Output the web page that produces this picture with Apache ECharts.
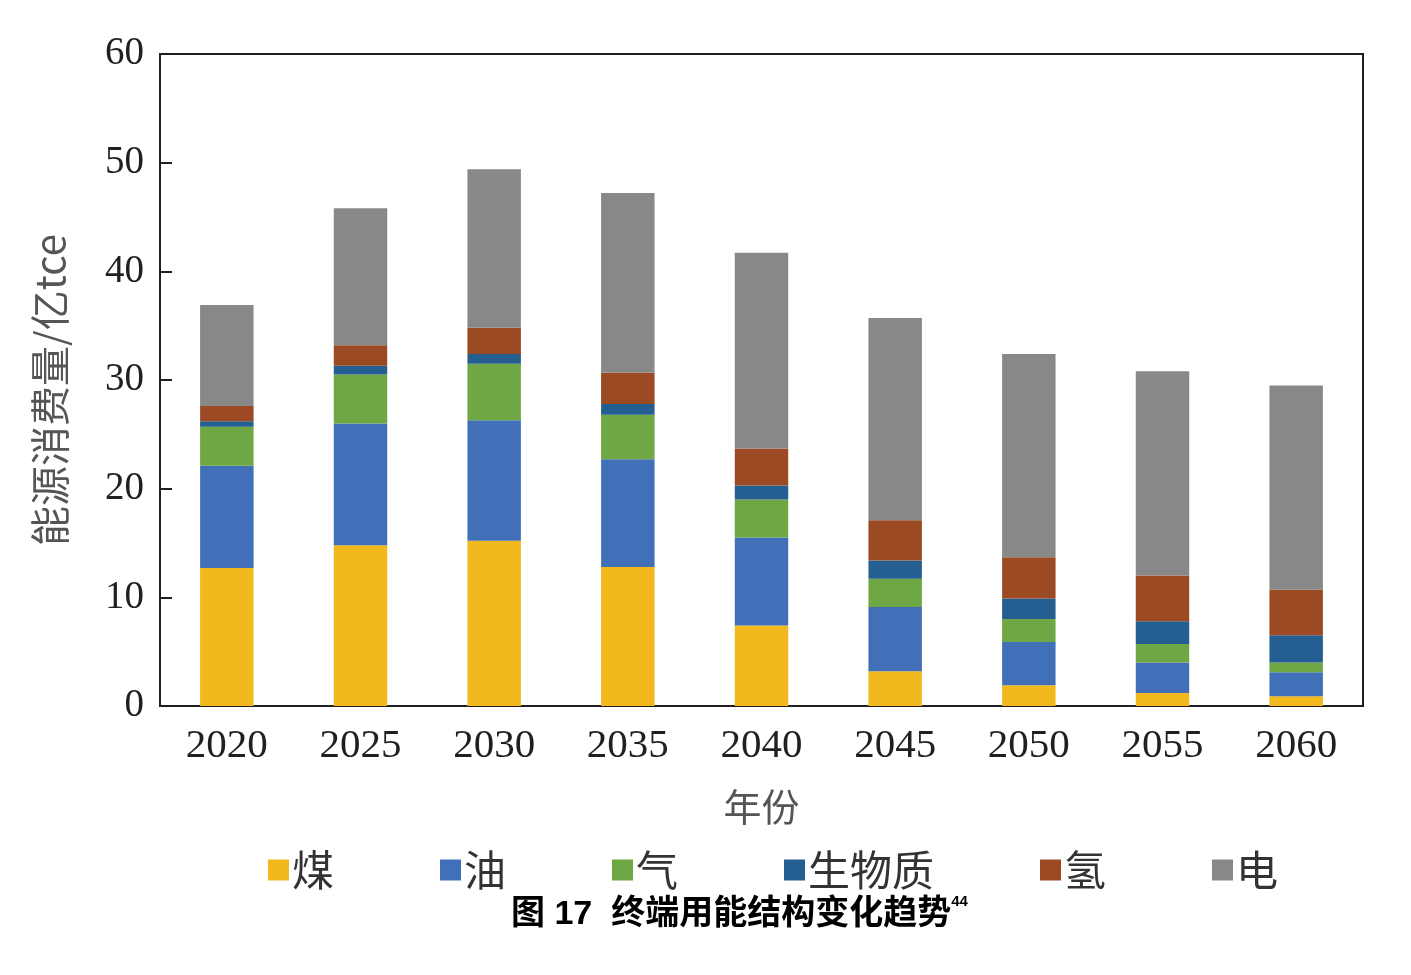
<!DOCTYPE html>
<html>
<head>
<meta charset="utf-8">
<title>终端用能结构变化趋势</title>
<script src="https://cdn.jsdelivr.net/npm/echarts@6/dist/echarts.min.js"></script>
<style>
  html, body { margin: 0; padding: 0; background: #fff; }
  #chart { width: 1411px; height: 975px; }
</style>
</head>
<body>
<div id="chart"></div>
<script>
// 年份
const years = ['2020', '2025', '2030', '2035', '2040', '2045', '2050', '2055', '2060'];

// 各能源品种 (亿tce)
const coal     = [12.7, 14.8, 15.2, 12.8, 7.4, 3.2, 1.9, 1.2, 0.9];
const oil      = [9.4, 11.2, 11.1, 9.9, 8.1, 5.9, 4.0, 2.8, 2.2];
const gas      = [3.6, 4.5, 5.2, 4.1, 3.5, 2.6, 2.1, 1.7, 0.9];
const biomass  = [0.5, 0.8, 0.9, 1.0, 1.3, 1.7, 1.9, 2.1, 2.5];
const hydrogen = [1.4, 1.9, 2.4, 2.9, 3.4, 3.7, 3.8, 4.2, 4.2];
const power    = [9.3, 12.6, 14.6, 16.5, 18.0, 18.6, 18.7, 18.8, 18.8];

const seriesNames = ['煤', '油', '气', '生物质', '氢', '电'];
const seriesData = [coal, oil, gas, biomass, hydrogen, power];
const colors = ['#F2B91E', '#4270B8', '#70A745', '#255E91', '#9C4A23', '#888888'];

const yTicks = [0, 10, 20, 30, 40, 50, 60];

const chart = echarts.init(document.getElementById('chart'));

const serif = '"Liberation Serif", "Times New Roman", serif';
const cjk = '"Noto Sans CJK SC", "Liberation Sans", sans-serif';

const option = {
  animation: false,
  backgroundColor: '#fff',
  color: colors,
  title: {
    text: '{a|图 17  终端用能结构变化趋势}{sup|44}',
    left: 506,
    top: 889,
    textStyle: {
      rich: {
        a: {
          fontFamily: '"Liberation Sans", "Noto Sans CJK SC", sans-serif',
          fontSize: 34,
          fontWeight: 'bold',
          color: '#000',
          lineHeight: 42,
        },
        sup: {
          fontFamily: '"Liberation Sans", sans-serif',
          fontSize: 15,
          color: '#000',
          verticalAlign: 'top',
          lineHeight: 42,
          padding: [0, 0, 16, 0],
        },
      },
    },
  },
  legend: {
    data: seriesNames,
    left: 263,
    top: 844,
    icon: 'rect',
    itemWidth: 21,
    itemHeight: 21,
    itemGap: 106,
    textStyle: {
      fontFamily: cjk,
      fontSize: 42,
      color: '#333',
      padding: [0, 0, 0, -2],
    },
  },
  grid: {
    left: 160,
    right: 48,
    top: 54,
    bottom: 269,
    show: true,
    borderColor: '#231f20',
    borderWidth: 2,
    backgroundColor: 'transparent',
  },
  xAxis: {
    type: 'category',
    data: years,
    name: '年份',
    nameLocation: 'middle',
    nameGap: 82,
    nameTextStyle: {
      fontFamily: cjk,
      fontSize: 38,
      color: '#555',
    },
    axisLine: { show: true, lineStyle: { color: '#231f20', width: 2 } },
    axisTick: { show: false },
    axisLabel: {
      fontFamily: serif,
      fontSize: 41,
      color: '#231f20',
      margin: 20,
    },
  },
  yAxis: {
    type: 'value',
    min: yTicks[0],
    max: yTicks[yTicks.length - 1],
    interval: 10,
    name: '能源消费量/亿tce',
    nameLocation: 'middle',
    nameGap: 90,
    nameRotate: 90,
    nameTextStyle: {
      fontFamily: cjk,
      fontSize: 40,
      color: '#555',
      padding: [0, 20, 0, 0],
    },
    axisLine: { show: true, lineStyle: { color: '#231f20', width: 2 } },
    axisTick: {
      show: true,
      inside: true,
      length: 12,
      lineStyle: { color: '#231f20', width: 2 },
    },
    splitLine: { show: false },
    axisLabel: {
      fontFamily: serif,
      fontSize: 39,
      color: '#231f20',
      margin: 16,
    },
  },
  series: seriesNames.map((name, i) => ({
    name: name,
    type: 'bar',
    stack: 'total',
    barWidth: '40%',
    data: seriesData[i],
    itemStyle: { color: colors[i] },
  })),
};

chart.setOption(option);
</script>
</body>
</html>
